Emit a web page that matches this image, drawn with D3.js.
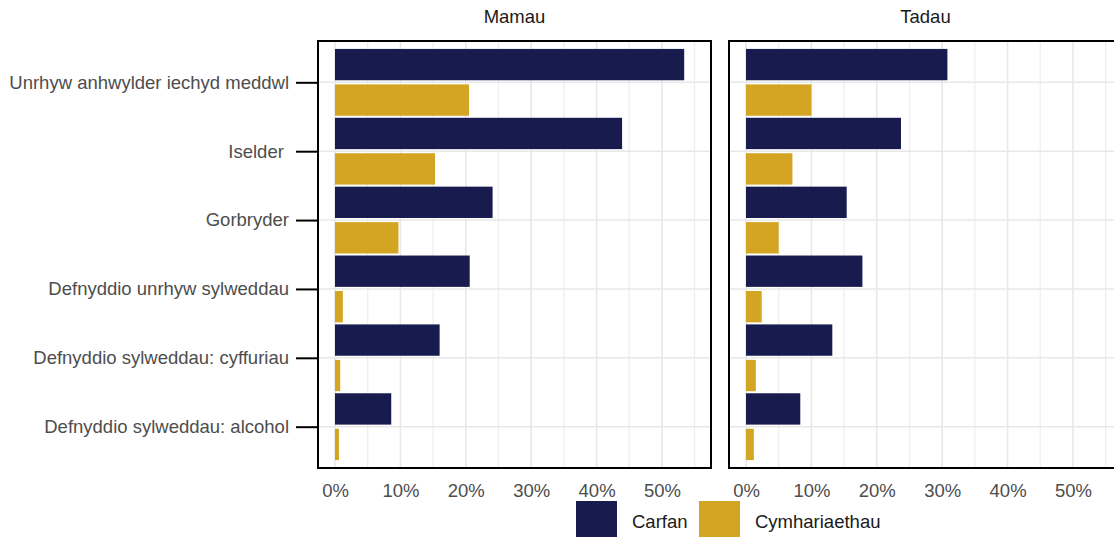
<!DOCTYPE html>
<html>
<head>
<meta charset="utf-8">
<script src="https://cdn.jsdelivr.net/npm/d3@7"></script>
<style>
  html, body { margin: 0; padding: 0; background: #ffffff; }
  svg { display: block; font-family: "Liberation Sans", Arial, sans-serif; }
</style>
</head>
<body>
<svg id="chart" width="1114" height="537"></svg>
<script>
// ---- data ----
const categories = [
  "Unrhyw anhwylder iechyd meddwl",
  "Iselder ",
  "Gorbryder",
  "Defnyddio unrhyw sylweddau",
  "Defnyddio sylweddau: cyffuriau",
  "Defnyddio sylweddau: alcohol"
];
const panels = ["Mamau", "Tadau"];
const seriesNames = ["Carfan", "Cymhariaethau"];
const mamauCarfan = [53.4, 43.9, 24.1, 20.6, 16.0, 8.6];
const mamauCymhariaethau = [20.5, 15.3, 9.7, 1.2, 0.8, 0.6];
const tadauCarfan = [30.8, 23.7, 15.4, 17.8, 13.2, 8.3];
const tadauCymhariaethau = [10.0, 7.1, 5.0, 2.4, 1.5, 1.2];
const xTicks = [0, 10, 20, 30, 40, 50];
const xMinorTicks = [5, 15, 25, 35, 45, 55];

const panelData = {
  "Mamau": [mamauCarfan, mamauCymhariaethau],
  "Tadau": [tadauCarfan, tadauCymhariaethau]
};

// ---- layout / style ----
const colors = { "Carfan": "#171b4e", "Cymhariaethau": "#d4a423" };
const panelTop = 41, panelBottom = 468, panelW = 393;
const panelLefts = { "Mamau": 318, "Tadau": 729 };
const fontSize = 18.5;

const svg = d3.select("#chart");

const x = d3.scaleLinear().domain([-2.6, 57.5]).range([0, panelW]);
const y = d3.scalePoint().domain(categories).range([panelTop, panelBottom]).padding(0.6);
const step = y.step();

panels.forEach((p, pi) => {
  const g = svg.append("g").attr("transform", `translate(${panelLefts[p]},0)`);

  // gridlines
  g.selectAll("line.minor").data(xMinorTicks).join("line")
    .attr("x1", d => x(d)).attr("x2", d => x(d))
    .attr("y1", panelTop).attr("y2", panelBottom)
    .attr("stroke", "#eeeeee").attr("stroke-width", 1.2);
  g.selectAll("line.major").data(xTicks).join("line")
    .attr("x1", d => x(d)).attr("x2", d => x(d))
    .attr("y1", panelTop).attr("y2", panelBottom)
    .attr("stroke", "#e8e8e8").attr("stroke-width", 1.6);
  g.selectAll("line.hgrid").data(categories).join("line")
    .attr("x1", 0).attr("x2", panelW)
    .attr("y1", d => y(d)).attr("y2", d => y(d))
    .attr("stroke", "#e8e8e8").attr("stroke-width", 1.6);

  // bars
  seriesNames.forEach((s, si) => {
    const vals = panelData[p][si];
    g.selectAll(`rect.s${si}`).data(categories).join("rect")
      .attr("class", `s${si}`)
      .attr("x", x(0))
      .attr("width", (d, i) => x(vals[i]) - x(0))
      .attr("y", d => si === 0 ? y(d) - step * 0.485 : y(d) + step * 0.03)
      .attr("height", step * 0.455)
      .attr("fill", colors[s]);
  });

  // border
  g.append("rect")
    .attr("x", 0).attr("y", panelTop)
    .attr("width", panelW).attr("height", panelBottom - panelTop)
    .attr("fill", "none").attr("stroke", "#000").attr("stroke-width", 2);

  // strip title
  g.append("text")
    .attr("x", panelW / 2).attr("y", 23)
    .attr("text-anchor", "middle")
    .attr("font-size", fontSize).attr("fill", "#1a1a1a")
    .text(p);

  // x axis
  const xAxis = g.append("g").attr("transform", `translate(0,${panelBottom})`)
    .call(d3.axisBottom(x).tickValues(xTicks).tickFormat(d => d + "%").tickSize(0).tickPadding(16));
  xAxis.select(".domain").remove();
  xAxis.selectAll("text").attr("font-size", fontSize).attr("fill", "#4d4d4d")
    .attr("font-family", "Liberation Sans, Arial, sans-serif");

  // y axis (left panel only)
  if (pi === 0) {
    const yAxis = g.append("g")
      .call(d3.axisLeft(y).tickSize(22).tickPadding(7));
    yAxis.select(".domain").remove();
    yAxis.selectAll("line").attr("stroke", "#000").attr("stroke-width", 2);
    yAxis.selectAll("text").attr("font-size", fontSize).attr("fill", "#4d4d4d")
      .attr("font-family", "Liberation Sans, Arial, sans-serif")
      .style("white-space", "pre");
  }
});

// legend
const legendItems = [
  { name: seriesNames[0], kx: 576, tx: 632 },
  { name: seriesNames[1], kx: 699, tx: 755 }
];
const lg = svg.append("g");
lg.selectAll("rect").data(legendItems).join("rect")
  .attr("x", d => d.kx).attr("y", 501)
  .attr("width", 41).attr("height", 41)
  .attr("fill", d => colors[d.name]);
lg.selectAll("text").data(legendItems).join("text")
  .attr("x", d => d.tx).attr("y", 528)
  .attr("font-size", fontSize).attr("fill", "#1a1a1a")
  .text(d => d.name);
</script>
</body>
</html>
